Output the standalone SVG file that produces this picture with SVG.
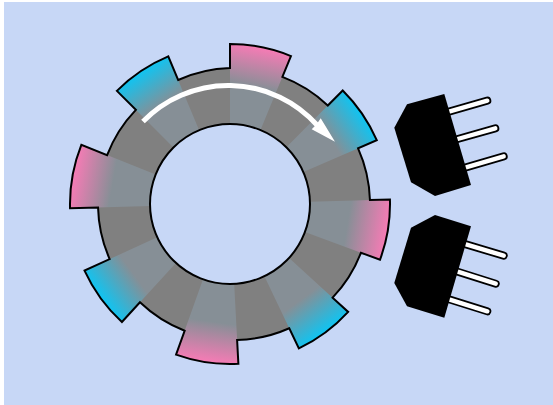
<svg xmlns="http://www.w3.org/2000/svg" width="553" height="405" viewBox="0 0 553 405">
<style>
.leg-o{stroke:#000;stroke-width:8;stroke-linecap:round;fill:none}
.leg-i{stroke:#fff;stroke-width:4.4;stroke-linecap:round;fill:none}
</style>
<defs>
<linearGradient id="p"><stop offset="0.15" stop-color="#868f96"/><stop offset="1" stop-color="#f27cb4"/></linearGradient>
<linearGradient id="c"><stop offset="0.15" stop-color="#868f96"/><stop offset="1" stop-color="#14c2ee"/></linearGradient>
<linearGradient id="ga" href="#p" gradientUnits="userSpaceOnUse" x1="251.75" y1="94.13" x2="260.68" y2="49"/>
<linearGradient id="gb" href="#c" gradientUnits="userSpaceOnUse" x1="322.46" y1="140.79" x2="360.43" y2="114.83"/>
<linearGradient id="gc" href="#p" gradientUnits="userSpaceOnUse" x1="340.5" y1="222.29" x2="385.88" y2="229.8"/>
<linearGradient id="gd" href="#c" gradientUnits="userSpaceOnUse" x1="296.71" y1="293.97" x2="324.1" y2="330.92"/>
<linearGradient id="ge" href="#p" gradientUnits="userSpaceOnUse" x1="213.74" y1="314.81" x2="207.06" y2="360.32"/>
<linearGradient id="gf" href="#c" gradientUnits="userSpaceOnUse" x1="139.45" y1="269.91" x2="102.26" y2="296.98"/>
<linearGradient id="gg" href="#p" gradientUnits="userSpaceOnUse" x1="119.74" y1="184.36" x2="74.45" y2="176.29"/>
<linearGradient id="gh" href="#c" gradientUnits="userSpaceOnUse" x1="167.63" y1="110.97" x2="142.01" y2="72.77"/>
</defs>
<rect width="553" height="405" fill="#fff"/>
<rect x="4" y="2" width="549" height="403" fill="#c7d7f6"/>
<g id="wheel">
<path fill="#808080" fill-rule="evenodd" d="M98 204A136 136 0 0 1 370 204A136 136 0 0 1 98 204ZM150 204A80 80 0 0 0 310 204A80 80 0 0 0 150 204Z"/>
<path fill="url(#ga)" d="M230 124L230 44A160 160 0 0 1 290.96 56.08L260.48 130.04A80 80 0 0 0 230 124Z"/>
<path fill="url(#gb)" d="M286.37 147.23L342.74 90.46A160 160 0 0 1 376.74 140.21L303.37 172.1A80 80 0 0 0 286.37 147.23Z"/>
<path fill="url(#gc)" d="M309.97 201.77L389.94 199.53A160 160 0 0 1 379.97 259.78L304.98 231.89A80 80 0 0 0 309.97 201.77Z"/>
<path fill="url(#gd)" d="M289.08 257.94L348.16 311.89A160 160 0 0 1 298.88 348.42L264.44 276.21A80 80 0 0 0 289.08 257.94Z"/>
<path fill="url(#ge)" d="M234.18 283.89L238.37 363.78A160 160 0 0 1 176.06 354.64L203.03 279.32A80 80 0 0 0 234.18 283.89Z"/>
<path fill="url(#gf)" d="M175.95 263L121.9 321.97A160 160 0 0 1 84.53 270.6L157.26 237.3A80 80 0 0 0 175.95 263Z"/>
<path fill="url(#gg)" d="M150.03 206.09L70.05 208.19A160 160 0 0 1 81.35 144.85L155.67 174.42A80 80 0 0 0 150.03 206.09Z"/>
<path fill="url(#gh)" d="M173.43 147.43L116.86 90.86A160 160 0 0 1 168.26 56.4L199.13 130.2A80 80 0 0 0 173.43 147.43Z"/>
<circle cx="230" cy="204" r="80" fill="none" stroke="#000" stroke-width="2"/>
<path fill="none" stroke="#000" stroke-width="2" stroke-linejoin="miter" d="M230 68.06L230 44A160 160 0 0 1 290.96 56.08L282.38 76.91A136 136 0 0 1 327.79 105.51L342.74 90.46A160 160 0 0 1 376.74 140.21L358.08 148.32A136 136 0 0 1 369.94 200.09L389.94 199.53A160 160 0 0 1 379.97 259.78L360.98 252.71A136 136 0 0 1 332.59 297.68L348.16 311.89A160 160 0 0 1 298.88 348.42L289.27 328.26A136 136 0 0 1 237.12 339.96L238.37 363.78A160 160 0 0 1 176.06 354.64L184.63 330.73A136 136 0 0 1 139.96 302.26L121.9 321.97A160 160 0 0 1 84.53 270.6L109.67 259.1A136 136 0 0 1 98.04 207.46L70.05 208.19A160 160 0 0 1 81.35 144.85L107.11 155.1A136 136 0 0 1 135.86 109.86L116.86 90.86A160 160 0 0 1 168.26 56.4L178.13 80A136 136 0 0 1 230 68.06Z"/>
</g>
<g id="sensor-top">
<path class="leg-o" d="M449 111.7L487.3 100.7M457.7 139L495.3 128.3M466 167.3L503.7 156.3"/>
<path class="leg-i" d="M449 111.7L487.3 100.7M457.7 139L495.3 128.3M466 167.3L503.7 156.3"/>
<polygon points="444.3,94 471,185 435,196 411,182.3 394.3,127.7 407,104.3" fill="#000"/>
</g>
<g id="sensor-bottom">
<path class="leg-o" d="M466 244.3L503.7 255.7M457.7 271.7L495.7 283.7M449 299.3L487.3 311.3"/>
<path class="leg-i" d="M466 244.3L503.7 255.7M457.7 271.7L495.7 283.7M449 299.3L487.3 311.3"/>
<polygon points="435,215 471,226.3 444.3,317.7 407,306.3 394.3,283 411,227.7" fill="#000"/>
</g>
<g id="connectors">
<path d="M143 121.5A119 119 0 0 1 317 125" fill="none" stroke="#fff" stroke-width="5"/>
<polygon points="335,141.7 311.7,129.3 316.5,124.5 320.7,118.3" fill="#fff"/>
</g>
</svg>
